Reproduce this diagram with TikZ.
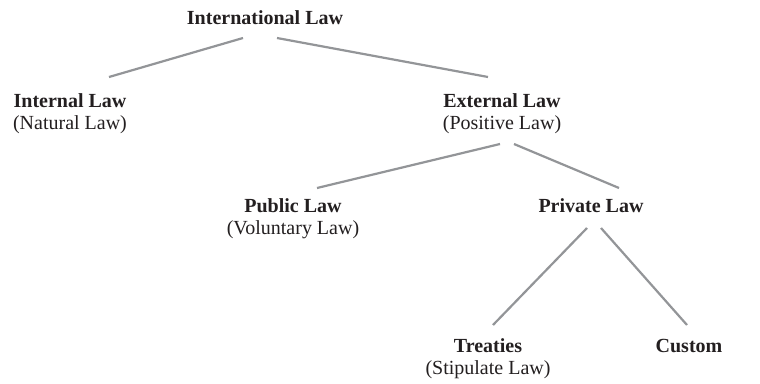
\documentclass[tikz,border=0pt]{standalone}
\usepackage{fontspec}
\setmainfont{Liberation Serif}
\usetikzlibrary{calc}
\definecolor{txt}{RGB}{35,31,32}
\definecolor{lin}{RGB}{147,149,152}
\begin{document}
\begin{tikzpicture}[x=1pt,y=-1pt,
  lbl/.style={anchor=base,align=center,inner sep=0pt,text=txt,
    font=\fontsize{20}{22.5}\selectfont},
  conn/.style={draw=lin,line width=2.2pt}]
\useasboundingbox[fill=white] (0,0) rectangle (760,383);
\node[lbl] (intl) at (265,24) {\textbf{International Law}};
\node[lbl] (internal) at (70,129.5) {\textbf{Internal Law}\\(Natural Law)};
\node[lbl] (external) at (502,129.5) {\textbf{External Law}\\(Positive Law)};
\node[lbl] (public) at (293,234.5) {\textbf{Public Law}\\(Voluntary Law)};
\node[lbl] (private) at (591,212) {\textbf{Private Law}};
\node[lbl] (treaties) at (488,374.5) {\textbf{Treaties}\\(Stipulate Law)};
\node[lbl] (custom) at (689,352) {\textbf{Custom}};
\draw[conn] ($(intl.base)+(-22,14)$) -- ($(internal.base)+(39,-52.5)$);
\draw[conn] ($(intl.base)+(12,14)$) -- ($(external.base)+(-14,-52.5)$);
\draw[conn] ($(external.base)+(-2,14.5)$) -- ($(public.base)+(24,-46.5)$);
\draw[conn] ($(external.base)+(12,14.5)$) -- ($(private.base)+(28,-24)$);
\draw[conn] ($(private.base)+(-4,16)$) -- ($(treaties.base)+(5,-49.5)$);
\draw[conn] ($(private.base)+(10,16)$) -- ($(custom.base)+(-2,-27)$);
\end{tikzpicture}
\end{document}
